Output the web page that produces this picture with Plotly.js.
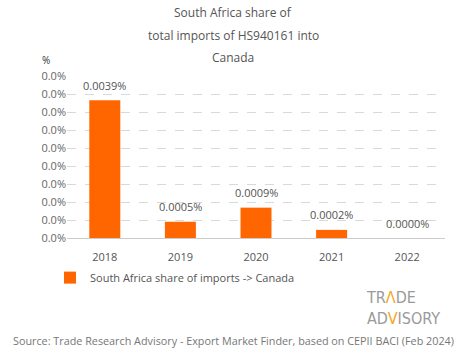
<!DOCTYPE html>
<html>
<head>
<meta charset="utf-8">
<script src="https://cdn.plot.ly/plotly-3.0.1.min.js"></script>
<style>html,body{margin:0;padding:0;background:#fff;}#chart{width:465px;height:359px;}</style>
</head>
<body>
<div id="chart"></div>
<script>
const years = ["2018", "2019", "2020", "2021", "2022"];
const shareValues = [0.0039, 0.00046, 0.00086, 0.00023, 0.0000];
const seriesName = "South Africa share of imports -> Canada";
const titleLines = ["South Africa share of", "total imports of HS940161 into", "Canada"];
const sourceText = "Source: Trade Research Advisory - Export Market Finder, based on CEPII BACI (Feb 2024)";

const FONT = "Open Sans, Noto Sans, sans-serif";
const GREY = "#555";
const LOGOFONT = "DejaVu Sans Condensed, Liberation Sans Narrow, sans-serif";

const annotations = [];
const titleY = [12, 35, 58];
titleLines.forEach((t, i) => {
  annotations.push({text: t, xref: "paper", yref: "paper", x: 0.44, y: 1 + (76 - titleY[i]) / 162,
    xanchor: "center", yanchor: "middle", showarrow: false, font: {family: FONT, size: 12, color: GREY}});
});
annotations.push({text: "%", xref: "paper", yref: "paper", x: -0.055, y: 1 + (76 - 60) / 162,
  xanchor: "center", yanchor: "middle", showarrow: false, font: {family: FONT, size: 10, color: "#333"}});
years.forEach((yr, i) => {
  annotations.push({text: shareValues[i].toFixed(4) + "%", x: i, y: shareValues[i], xref: "x", yref: "y",
    yanchor: "middle", xanchor: "center", yshift: 15, showarrow: false, font: {family: FONT, size: 11, color: GREY}});
});
annotations.push({text: sourceText, xref: "paper", yref: "paper", x: 0.44, y: 1 - (340 - 76) / 162,
  xanchor: "center", yanchor: "middle", showarrow: false, font: {family: FONT, size: 10.8, color: "#777"}});
annotations.push({text: "TR<span style='color:#f5a623'>Λ</span>DE<br>AD<span style='color:#f5a623'>V</span>ISORY",
  xref: "paper", yref: "paper", align: "left",
  x: (364 - 67) / 378, y: 1 - (308 - 76) / 162, xanchor: "left", yanchor: "middle", showarrow: false,
  font: {family: LOGOFONT, size: 16, color: "#9a9a9a", weight: 300}});

const trace = {
  type: "bar", x: years, y: shareValues, name: seriesName,
  marker: {color: "#ff6600"}, showlegend: true, hoverinfo: "none"
};

const layout = {
  width: 465, height: 359,
  margin: {l: 67, r: 20, t: 76, b: 121},
  paper_bgcolor: "#fff", plot_bgcolor: "#fff",
  font: {family: FONT, color: GREY, size: 11},
  bargap: 0.59,
  showlegend: true,
  legend: {orientation: "h", x: -0.045, xanchor: "left", y: -0.155, yanchor: "top",
    font: {family: FONT, size: 11, color: GREY}},
  xaxis: {type: "category", range: [-0.5, 4.5], showgrid: false, showline: true, linecolor: "#ccc", linewidth: 1,
    ticks: "", ticklabelstandoff: 9, tickfont: {family: FONT, size: 11, color: GREY}},
  yaxis: {range: [0, 0.00459], dtick: 0.00051, tick0: 0, tickformat: ".1f", ticksuffix: "%",
    showgrid: true, gridcolor: "#d9d9d9", griddash: "dash", gridwidth: 1, zeroline: false,
    showline: false, ticks: "", tickfont: {family: FONT, size: 11, color: "#666"}},
  annotations: annotations
};

Plotly.newPlot("chart", [trace], layout, {displayModeBar: false, staticPlot: true});
</script>
</body>
</html>
